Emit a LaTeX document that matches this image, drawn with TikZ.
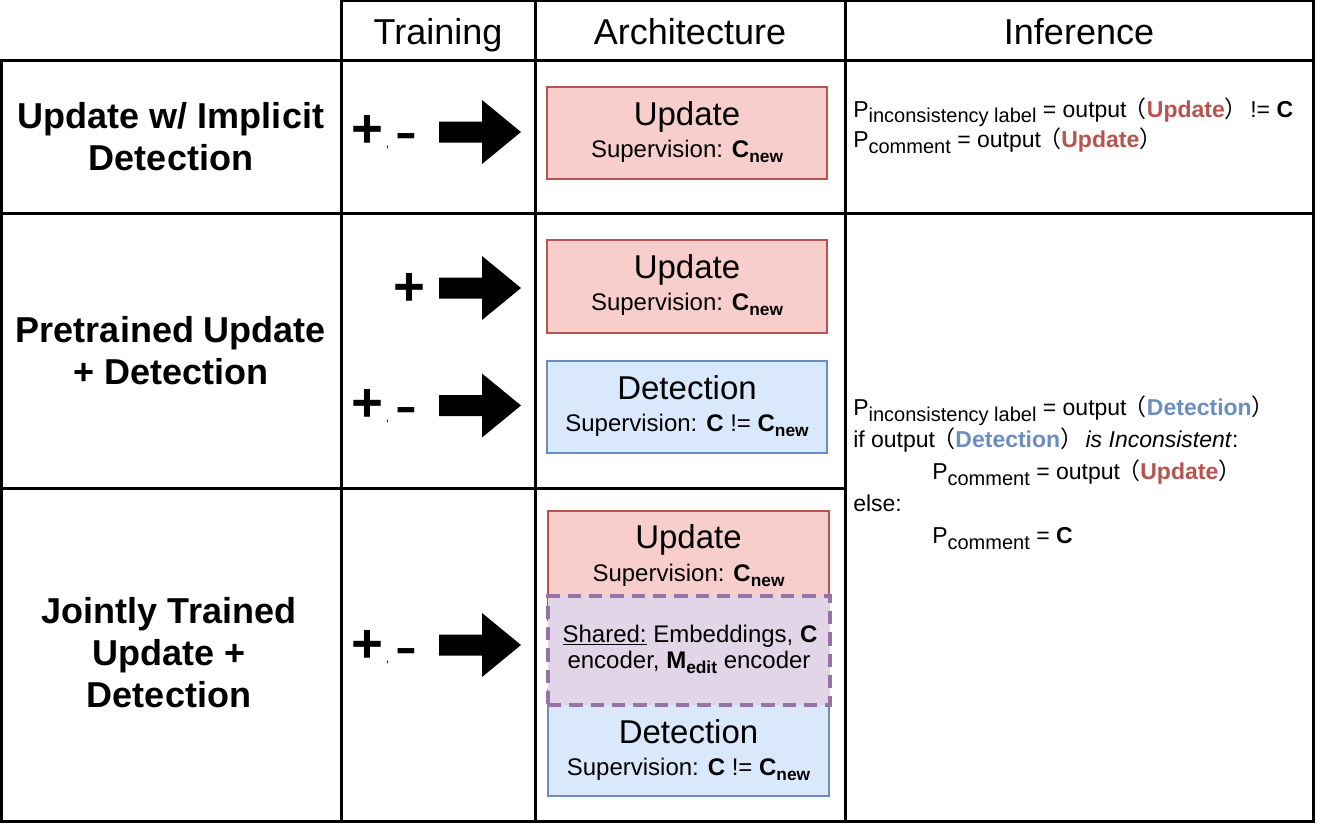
\documentclass[tikz,border=0pt]{standalone}
\usepackage{fontspec}
\usepackage{graphicx}
\setmainfont{Liberation Sans}
\newfontfamily\cjk{Noto Sans CJK SC}
\definecolor{redS}{HTML}{B85450}
\definecolor{redF}{HTML}{F8CECC}
\definecolor{bluS}{HTML}{6C8EBF}
\definecolor{bluF}{HTML}{DAE8FC}
\definecolor{purS}{HTML}{9673A6}
\definecolor{purF}{HTML}{E1D5E7}
\newcommand\fsz[1]{\fontsize{#1}{#1}\selectfont}
\newcommand\bsub[1]{\raisebox{-4.3pt}{\fsz{13pt}\bfseries #1}}
\newcommand\isub[1]{\raisebox{-4.5pt}{\fsz{15pt}#1}}
\newcommand\lpar{\kern-2pt{\cjk （}}
\newcommand\rpar{{\cjk ）}\kern-3pt}
\newcommand\updw{\textcolor{redS}{\textbf{Update}}}
\newcommand\detw{\textcolor{bluS}{\textbf{Detection}}}
\newcommand\pmtxt{{\fsz{41pt}\bfseries +}{\fsz{9pt}\hspace{2pt},}\hspace{4.5pt}{\fsz{41pt}\bfseries\scalebox{1.2}[0.8]{-}}}
\newcommand\blockarr[1]{\fill (439,{#1-10.5}) -- (482,{#1-10.5}) -- (482,{#1-32}) -- (521,#1) -- (482,{#1+32}) -- (482,{#1+10.5}) -- (439,{#1+10.5}) -- cycle;}
\begin{document}
\begin{tikzpicture}[x=0.75pt,y=-0.75pt,
  tbl/.style={line width=2.25pt},
  hdr/.style={font=\fsz{27pt}, inner sep=0pt, anchor=base},
  rowlab/.style={align=center, font=\fontsize{27pt}{31.5pt}\selectfont\bfseries, inner sep=0pt},
  ubox/.style={draw=redS, fill=redF, line width=1.1pt, minimum width=210pt},
  dbox/.style={draw=bluS, fill=bluF, line width=1.1pt, minimum width=210pt},
  sbox/.style={draw=purS, fill=purF, line width=3.5pt, dash pattern=on 10pt off 6pt, minimum width=211.5pt, minimum height=81.75pt},
  btitle/.style={anchor=base, inner sep=0pt, font=\fsz{24.75pt}},
  bsup/.style={anchor=base, inner sep=0pt, font=\fsz{18pt}},
  infer/.style={anchor=base west, inner sep=0pt, font=\fsz{17.25pt}},
  pm/.style={anchor=base west, inner sep=0pt}
]
\useasboundingbox (0,0) rectangle (1330,824);
\fill[white] (0,0) rectangle (1330,824);
% table
\draw[tbl] (1,61) -- (341,61) -- (341,1) -- (1313,1) -- (1313,821) -- (1,821) -- cycle;
\draw[tbl] (341,61) -- (1313,61);
\draw[tbl] (1,213) -- (1313,213);
\draw[tbl] (1,488) -- (845,488);
\draw[tbl] (341,61) -- (341,821);
\draw[tbl] (535,1) -- (535,821);
\draw[tbl] (845,1) -- (845,821);
% headers
\node[hdr] (hT) at (438,45) {Training};
\node[hdr] (hA) at (690,45) {Architecture};
\node[hdr] (hI) at (1079,45) {Inference};
% row labels
\node[rowlab] (r1) at (171,137) {Update w/ Implicit\\Detection};
\node[rowlab] (r2) at (171,351) {Pretrained Update\\+ Detection};
\node[rowlab] (r3) at (169,653) {Jointly Trained\\Update +\\Detection};
% training labels and arrows
\node[pm] (t1) at (351,147) {\pmtxt};
\blockarr{132}
\node[pm, font=\fsz{41pt}\bfseries] (t2) at (393,305) {+};
\blockarr{288}
\node[pm] (t3) at (351,421.5) {\pmtxt};
\blockarr{405.5}
\node[pm] (t4) at (351,662) {\pmtxt};
\blockarr{645}
% row 1 architecture
\node[ubox, minimum height=69pt] (u1) at (687,133) {};
\node[btitle] (u1t) at (687,125) {Update};
\node[bsup] (u1s) at (687,157) {Supervision: \textbf{C}\bsub{new}};
% row 2 architecture
\node[ubox, minimum height=69.75pt] (u2) at (687,286.5) {};
\node[btitle] (u2t) at (687,278) {Update};
\node[bsup] (u2s) at (687,310) {Supervision: \textbf{C}\bsub{new}};
\node[dbox, minimum height=69pt] (d2) at (687,407) {};
\node[btitle] (d2t) at (687,399) {Detection};
\node[bsup] (d2s) at (687,431) {Supervision: \textbf{C} != \textbf{C}\bsub{new}};
% row 3 architecture
\node[ubox, minimum width=210.75pt, minimum height=81.75pt] (u3) at (688.5,565.5) {};
\node[dbox, minimum width=210.75pt, minimum height=79.5pt] (d3) at (688.5,743) {};
\node[btitle] (u3t) at (688.5,548) {Update};
\node[bsup] (u3s) at (688.5,581) {Supervision: \textbf{C}\bsub{new}};
\node[btitle] (d3t) at (688.5,743) {Detection};
\node[bsup] (d3s) at (688.5,775) {Supervision: \textbf{C} != \textbf{C}\bsub{new}};
\node[sbox] (sh) at (689,650.5) {};
\node[bsup] (sh1) at (690,642) {\underline{Shared:} Embeddings, \textbf{C}};
\node[bsup] (sh2) at (689,668) {encoder, \textbf{M}\bsub{edit} encoder};
% inference row 1
\node[infer] (i1) at (853,117) {P\isub{inconsistency label} = output\lpar\updw\rpar\ != \textbf{C}};
\node[infer] (i2) at (853,147) {P\isub{comment} = output\lpar\updw\rpar};
% inference rows 2-3
\node[infer] (j1) at (853,415) {P\isub{inconsistency label} = output\lpar\detw\rpar};
\node[infer] (j2) at (853,447) {if output\lpar\detw\rpar\ \textit{is Inconsistent}:};
\node[infer] (j3) at (932,479) {P\isub{comment} = output\lpar\updw\rpar};
\node[infer] (j4) at (853,511) {else:};
\node[infer] (j5) at (932,543) {P\isub{comment} = \textbf{C}};
\end{tikzpicture}
\end{document}
